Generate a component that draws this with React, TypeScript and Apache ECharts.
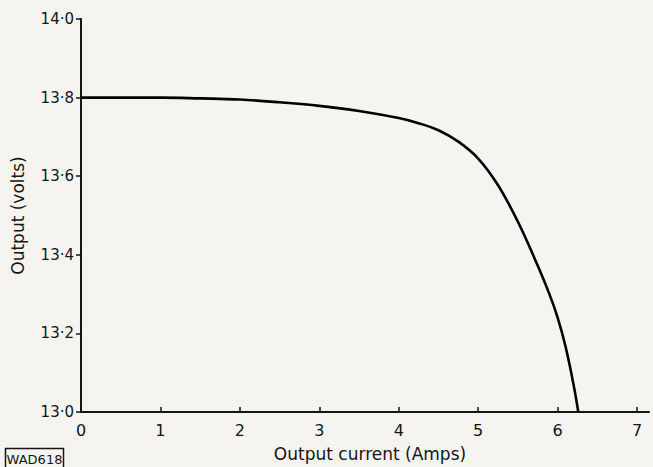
import React, { useEffect, useRef } from "react";
import * as echarts from "echarts";

const currentAmps = [0, 0.5, 1, 1.5, 2, 2.5, 3, 3.5, 4, 4.25, 4.5, 4.75, 5, 5.25, 5.5, 5.75, 5.9, 6, 6.1, 6.2, 6.26];
const outputVolts = [13.8, 13.8, 13.8, 13.798, 13.795, 13.788, 13.779, 13.766, 13.748, 13.735, 13.717, 13.688, 13.645, 13.577, 13.484, 13.372, 13.298, 13.24, 13.166, 13.07, 13.0];
const xTicks = [0, 1, 2, 3, 4, 5, 6, 7];
const yTicks = [13.0, 13.2, 13.4, 13.6, 13.8, 14.0];

const FONT = "DejaVu Sans";
const INK = "#151515";

export default function App() {
  const ref = useRef<HTMLDivElement>(null);
  useEffect(() => {
    if (!ref.current) return;
    const chart = echarts.init(ref.current, null, { renderer: "svg" });
    chart.setOption({
      animation: false,
      backgroundColor: "#f5f4f1",
      grid: { left: 81, top: 19, right: 4, bottom: 55, containLabel: false },
      xAxis: {
        type: "value",
        min: 0,
        max: 7.15,
        name: "Output current (Amps)",
        nameLocation: "middle",
        nameGap: 33,
        nameTextStyle: { fontFamily: FONT, fontSize: 17, color: INK, padding: [0, 0, 0, 10] },
        axisLine: { show: true, onZero: false, lineStyle: { color: INK, width: 2 } },
        axisTick: { show: true, inside: true, length: 5, customValues: xTicks, lineStyle: { color: INK, width: 1.5 } },
        axisLabel: {
          customValues: xTicks,
          fontFamily: FONT,
          fontSize: 16,
          color: INK,
          margin: 10,
          formatter: (v: number) => String(Math.round(v)),
        },
        splitLine: { show: false },
      },
      yAxis: {
        type: "value",
        min: 13,
        max: 14,
        interval: 0.2,
        name: "Output (volts)",
        nameLocation: "middle",
        nameGap: 55,
        nameTextStyle: { fontFamily: FONT, fontSize: 17, color: INK },
        axisLine: { show: true, onZero: false, lineStyle: { color: INK, width: 2 } },
        axisTick: { show: true, inside: false, length: 5, lineStyle: { color: INK, width: 1.5 } },
        axisLabel: {
          customValues: yTicks,
          fontFamily: FONT,
          fontSize: 15,
          color: INK,
          margin: 7,
          formatter: (v: number) => v.toFixed(1).replace(".", "·"),
        },
        splitLine: { show: false },
      },
      series: [
        {
          type: "line",
          data: currentAmps.map((x, i) => [x, outputVolts[i]]),
          smooth: 0.4,
          showSymbol: false,
          lineStyle: { color: "#000", width: 2.6 },
        },
      ],
      graphic: [
        {
          type: "group",
          left: 3,
          top: 446,
          children: [
            { type: "rect", shape: { x: 0, y: 0, width: 58, height: 20 }, style: { fill: "none", stroke: INK, lineWidth: 1.5 } },
            { type: "text", x: 29, y: 10.5, style: { text: "WAD618", fontFamily: FONT, fontSize: 13, fill: INK, align: "center", verticalAlign: "middle" } },
          ],
        },
      ],
    });
    return () => chart.dispose();
  }, []);
  return <div ref={ref} style={{ width: 653, height: 467, position: "fixed", left: 0, top: 0 }} />;
}
